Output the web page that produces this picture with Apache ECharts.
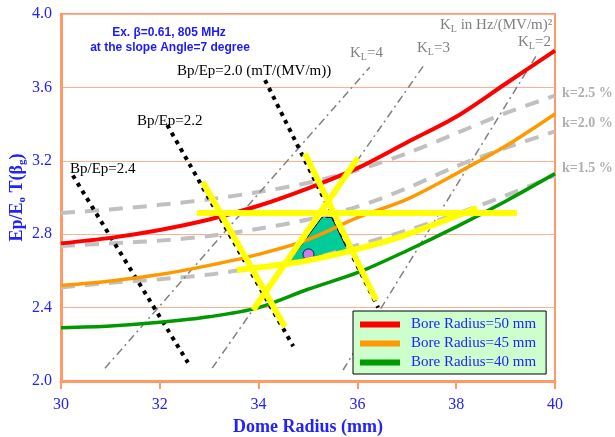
<!DOCTYPE html>
<html>
<head>
<meta charset="utf-8">
<script src="https://cdn.jsdelivr.net/npm/echarts@6/dist/echarts.min.js"></script>
<style>
  html, body { margin: 0; padding: 0; background: #fff; }
  #chart_1 { width: 615px; height: 437px; }
</style>
</head>
<body>
<div id="chart_1"></div>
<script>
// Ep/Eo T(beta_g) curves vs dome radius, one per bore radius
var xTicks = [30, 32, 34, 36, 38, 40];
var yTicks = [2.0, 2.4, 2.8, 3.2, 3.6, 4.0];

var bore50 = [[30,2.75],[31,2.78],[32,2.823],[33,2.88],[34,2.955],[35,3.05],[36,3.16],[37,3.30],[38,3.44],[39,3.62],[40,3.80]];
var bore45 = [[30,2.52],[31,2.545],[32,2.58],[33,2.63],[34,2.69],[35,2.77],[36,2.89],[37,2.99],[38,3.13],[39,3.28],[40,3.455]];
var bore40 = [[30,2.29],[31,2.30],[32,2.32],[33,2.35],[34,2.40],[35,2.50],[36,2.59],[37,2.71],[38,2.84],[39,2.98],[40,3.13]];

// coupling k (grey dashed)
var k25 = [[30,2.915],[31,2.935],[32,2.96],[33,2.99],[34,3.03],[35,3.08],[36,3.15],[37,3.24],[38,3.35],[39,3.46],[40,3.555]];
var k20 = [[30,2.735],[31,2.75],[32,2.765],[33,2.79],[34,2.83],[35,2.88],[36,2.95],[37,3.05],[38,3.17],[39,3.27],[40,3.36]];
var k15 = [[30,2.51],[31,2.535],[32,2.555],[33,2.58],[34,2.62],[35,2.66],[36,2.74],[37,2.82],[38,2.91],[39,3.01],[40,3.12]];

// Bp/Ep (black dotted)
var bp24 = [[30.24,3.12],[32.57,2.10]];
var bp22 = [[32.15,3.395],[34.70,2.19]];
var bp20 = [[34.13,3.64],[36.42,2.40]];

// KL (grey dash-dot)
var kl4 = [[30.89,2.07],[36.25,3.71]];
var kl3 = [[33.06,2.07],[37.37,3.73]];
var kl2 = [[35.71,2.06],[39.66,3.79]];

// yellow limits
var yelH = [[32.75,2.915],[39.23,2.915]];
var yel1 = [[32.87,3.085],[34.53,2.296]];
var yel2 = [[33.89,2.387],[36.01,3.215]];
var yel3 = [[34.94,3.24],[36.38,2.44]];
var yelLow = [[33.56,2.605],[34.84,2.649],[35.85,2.709],[36.86,2.785],[38.42,2.943]];

var region = [[35.28,2.892],[35.48,2.892],[35.80,2.714],[34.62,2.65]];
var chosen = [[35.01,2.69]];

var blue = '#2222ff';
var axisCol = '#ff9966';

function plain(name, data, color, width, type) {
    return {
        name: name,
        type: 'line',
        data: data,
        showSymbol: false,
        silent: true,
        smooth: 0.3,
        lineStyle: { color: color, width: width, type: type || 'solid' },
        itemStyle: { color: color }
    };
}

var myChart = echarts.init(document.getElementById('chart_1'));

var subTxt = { fontFamily: 'Liberation Serif', fontSize: 15, fill: '#808080' };
var subL = { fontFamily: 'Liberation Serif', fontSize: 10, fill: '#808080', padding: [8, 0, 0, 0] };

var option = {
    animation: false,
    grid: {
        left: 61, right: 60, top: 14, bottom: 56,
        outerBoundsMode: 'none',
        containLabel: false,
        show: true, borderColor: axisCol, borderWidth: 2
    },
    legend: {
        orient: 'vertical',
        left: 353, top: 311,
        backgroundColor: '#ccffcc',
        borderColor: '#000',
        borderWidth: 1,
        borderRadius: 0,
        padding: [6, 10, 4, 7],
        itemGap: 4,
        itemWidth: 40,
        itemHeight: 6,
        icon: 'rect',
        textStyle: { color: blue, fontFamily: 'Liberation Serif', fontSize: 15, padding: [0, 0, 0, 6] },
        data: ['Bore Radius=50 mm', 'Bore Radius=45 mm', 'Bore Radius=40 mm']
    },
    xAxis: {
        type: 'value',
        min: 30, max: 40, interval: 2,
        name: 'Dome Radius (mm)',
        nameLocation: 'middle',
        nameGap: 37,
        nameTextStyle: { color: blue, fontFamily: 'Liberation Serif', fontWeight: 'bold', fontSize: 18 },
        axisLine: { lineStyle: { color: axisCol, width: 3 } },
        axisTick: { show: true, length: 8, lineStyle: { color: axisCol, width: 2 } },
        axisLabel: { color: blue, fontFamily: 'Liberation Serif', fontSize: 16, margin: 16 },
        splitLine: { show: false }
    },
    yAxis: {
        type: 'value',
        min: 2.0, max: 4.0, interval: 0.4,
        name: '{a|Ep/E}{s|o}{a| T(β}{s|g}{a|)}',
        nameLocation: 'middle',
        nameGap: 33,
        nameMoveOverlap: false,
        nameRotate: 90,
        nameTextStyle: {
            rich: {
                a: { color: blue, fontFamily: 'Liberation Serif', fontWeight: 'bold', fontSize: 18, lineHeight: 22 },
                s: { color: blue, fontFamily: 'Liberation Serif', fontWeight: 'bold', fontSize: 11, lineHeight: 22, verticalAlign: 'bottom', padding: [8, 0, 0, 0] }
            }
        },
        axisLine: { lineStyle: { color: axisCol, width: 3 } },
        axisTick: { show: false },
        axisLabel: {
            color: blue, fontFamily: 'Liberation Serif', fontSize: 16, margin: 9,
            formatter: function (v) { return v.toFixed(1); }
        },
        splitLine: { lineStyle: { color: '#ffb090', width: 1 } }
    },
    series: [
        plain('k25', k25, '#c0c0c0', 4, [14, 10]),
        plain('k20', k20, '#c0c0c0', 4, [14, 10]),
        plain('k15', k15, '#c0c0c0', 4, [14, 10]),
        plain('kl4', kl4, '#808080', 1.5, [8, 4, 2, 4]),
        plain('kl3', kl3, '#808080', 1.5, [8, 4, 2, 4]),
        plain('kl2', kl2, '#808080', 1.5, [8, 4, 2, 4]),
        plain('bp24', bp24, '#000', 4, [4, 5]),
        plain('bp22', bp22, '#000', 4, [4, 5]),
        plain('bp20', bp20, '#000', 4, [4, 5]),
        plain('Bore Radius=50 mm', bore50, '#ff0000', 4),
        plain('Bore Radius=45 mm', bore45, '#ff9900', 3.5),
        plain('Bore Radius=40 mm', bore40, '#009900', 3.5),
        plain('yH', yelH, '#ffff00', 6),
        plain('y1', yel1, '#ffff00', 6),
        plain('y2', yel2, '#ffff00', 6),
        plain('y3', yel3, '#ffff00', 6),
        plain('yLow', yelLow, '#ffff00', 6),
        {
            type: 'custom',
            silent: true,
            data: [0],
            renderItem: function (params, api) {
                var pts = region.map(function (p) { return api.coord(p); });
                return {
                    type: 'polygon',
                    shape: { points: pts },
                    style: { fill: '#00cc99', stroke: '#000', lineWidth: 1 }
                };
            }
        },
        {
            type: 'scatter',
            data: chosen,
            symbolSize: 11,
            silent: true,
            itemStyle: { color: '#ff66ff', borderColor: '#000', borderWidth: 1 }
        }
    ],
    graphic: [
        { type: 'text', style: { x: 169, y: 33, text: 'Ex. β=0.61, 805 MHz', fill: '#1a1aff', font: 'bold 12px "Liberation Sans"', textAlign: 'center', textVerticalAlign: 'middle' } },
        { type: 'text', style: { x: 170, y: 48, text: 'at the slope Angle=7 degree', fill: '#1a1aff', font: 'bold 12px "Liberation Sans"', textAlign: 'center', textVerticalAlign: 'middle' } },
        { type: 'text', style: { x: 177, y: 71, text: 'Bp/Ep=2.0 (mT/(MV/m))', fill: '#000', font: '15px "Liberation Serif"', textVerticalAlign: 'middle' } },
        { type: 'text', style: { x: 137, y: 121, text: 'Bp/Ep=2.2', fill: '#000', font: '15px "Liberation Serif"', textVerticalAlign: 'middle' } },
        { type: 'text', style: { x: 70, y: 169, text: 'Bp/Ep=2.4', fill: '#000', font: '15px "Liberation Serif"', textVerticalAlign: 'middle' } },
        { type: 'text', style: { x: 440, y: 25, text: '{a|K}{s|L}{a| in Hz/(MV/m)²}', textVerticalAlign: 'middle', rich: { a: subTxt, s: subL } } },
        { type: 'text', style: { x: 350, y: 53, text: '{a|K}{s|L}{a|=4}', textVerticalAlign: 'middle', rich: { a: subTxt, s: subL } } },
        { type: 'text', style: { x: 417, y: 48, text: '{a|K}{s|L}{a|=3}', textVerticalAlign: 'middle', rich: { a: subTxt, s: subL } } },
        { type: 'text', style: { x: 518, y: 42, text: '{a|K}{s|L}{a|=2}', textVerticalAlign: 'middle', rich: { a: subTxt, s: subL } } },
        { type: 'text', style: { x: 562, y: 93, text: 'k=2.5 %', fill: '#b0b0b0', font: 'bold 14px "Liberation Serif"', textVerticalAlign: 'middle' } },
        { type: 'text', style: { x: 562, y: 123, text: 'k=2.0 %', fill: '#b0b0b0', font: 'bold 14px "Liberation Serif"', textVerticalAlign: 'middle' } },
        { type: 'text', style: { x: 562, y: 168, text: 'k=1.5 %', fill: '#b0b0b0', font: 'bold 14px "Liberation Serif"', textVerticalAlign: 'middle' } }
    ]
};

myChart.setOption(option);
window.addEventListener('resize', function () {
    myChart.resize();
});
</script>
</body>
</html>
